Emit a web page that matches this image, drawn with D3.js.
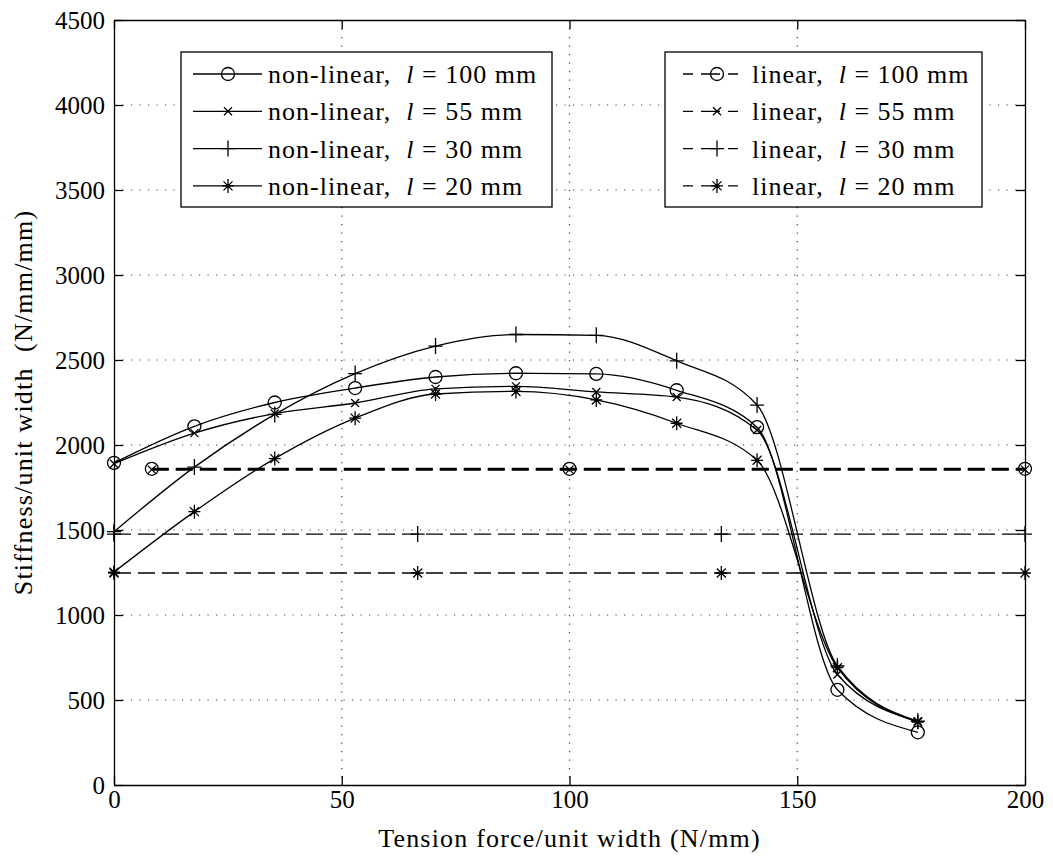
<!DOCTYPE html>
<html>
<head>
<meta charset="utf-8">
<script src="https://cdn.jsdelivr.net/npm/d3@7"></script>
<style>
  body { margin: 0; background: #fff; }
  svg text { font-family: "Liberation Serif", "Times New Roman", serif; fill: #000; }
</style>
</head>
<body>
<div id="chart"></div>
<script>
// tension force per unit width where the non-linear model was evaluated (N/mm)
let tension = [0, 17.65, 35.29, 52.94, 70.59, 88.24, 105.88, 123.53, 141.18, 158.82, 176.47];

// non-linear stiffness (N/mm/mm)
let nonlin100 = [1895, 2110, 2250, 2335, 2400, 2422, 2418, 2322, 2105, 560, 310];
let nonlin55 = [1890, 2070, 2185, 2247, 2330, 2345, 2312, 2282, 2088, 650, 375];
let nonlin30 = [1490, 1870, 2180, 2420, 2582, 2650, 2645, 2495, 2235, 700, 375];
let nonlin20 = [1252, 1608, 1920, 2158, 2300, 2315, 2265, 2128, 1910, 690, 370];

// linear stiffness, constant over tension
let linTension100 = [8.3, 100, 200];
let linear100 = [1860, 1860, 1860];
let linTension55 = [8.3, 100, 200];
let linear55 = [1855, 1855, 1855];
let linTension30 = [0, 66.67, 133.33, 200];
let linear30 = [1476, 1476, 1476, 1476];
let linTension20 = [0, 66.67, 133.33, 200];
let linear20 = [1247, 1247, 1247, 1247];

let xTicks = [0, 50, 100, 150, 200];
let yTicks = [0, 500, 1000, 1500, 2000, 2500, 3000, 3500, 4000, 4500];

let lengths = ["100", "55", "30", "20"];
let markerTypes = ["circle", "x", "plus", "star"];

const width = 1053;
const height = 861;
const plotLeft = 114, plotRight = 1025, plotTop = 20, plotBottom = 785;
const serif = '"Liberation Serif", "Times New Roman", serif';

var svg = d3.select("#chart")
    .append("svg")
    .attr("width", width)
    .attr("height", height);

var x = d3.scaleLinear().domain([0, 200]).range([plotLeft, plotRight]);
var y = d3.scaleLinear().domain([0, 4500]).range([plotBottom, plotTop]);

// dotted grid
svg.append("g").selectAll("line")
    .data(xTicks.slice(1, -1))
    .enter().append("line")
    .attr("x1", d => x(d)).attr("x2", d => x(d))
    .attr("y1", plotTop).attr("y2", plotBottom)
    .attr("stroke", "#444").attr("stroke-width", 1.2)
    .attr("stroke-dasharray", "1.2,7.3");
svg.append("g").selectAll("line")
    .data(yTicks.slice(1, -1))
    .enter().append("line")
    .attr("x1", plotLeft).attr("x2", plotRight)
    .attr("y1", d => y(d)).attr("y2", d => y(d))
    .attr("stroke", "#444").attr("stroke-width", 1.2)
    .attr("stroke-dasharray", "1.2,7.3");

// axes, ticks pointing inward
var xAxis = d3.axisBottom(x).tickValues(xTicks).tickFormat(d3.format("d"))
    .tickSizeInner(-9).tickSizeOuter(0).tickPadding(5);
var yAxis = d3.axisLeft(y).tickValues(yTicks).tickFormat(d3.format("d"))
    .tickSizeInner(-9).tickSizeOuter(0).tickPadding(9);

var gx = svg.append("g").attr("transform", "translate(0," + plotBottom + ")").call(xAxis);
var gy = svg.append("g").attr("transform", "translate(" + plotLeft + ",0)").call(yAxis);
svg.append("g").attr("transform", "translate(0," + plotTop + ")")
    .call(d3.axisTop(x).tickValues(xTicks).tickSizeInner(-9).tickSizeOuter(0).tickFormat(""));
svg.append("g").attr("transform", "translate(" + plotRight + ",0)")
    .call(d3.axisRight(y).tickValues(yTicks).tickSizeInner(-9).tickSizeOuter(0).tickFormat(""));

svg.selectAll(".domain, .tick line").attr("stroke", "#000").attr("stroke-width", 1.3);
gx.selectAll("text").style("font-family", serif).style("font-size", "25px");
gy.selectAll("text").style("font-family", serif).style("font-size", "25px");

svg.append("text")
    .attr("x", (plotLeft + plotRight) / 2).attr("y", 847)
    .attr("text-anchor", "middle")
    .style("font-family", serif)
    .style("font-size", "26px")
    .style("letter-spacing", "1.2px")
    .text("Tension force/unit width (N/mm)");

svg.append("text")
    .attr("transform", "translate(32," + ((plotTop + plotBottom) / 2 + 0) + ") rotate(-90)")
    .attr("text-anchor", "middle")
    .style("font-family", serif)
    .style("font-size", "26px")
    .style("letter-spacing", "1.2px")
    .text("Stiffness/unit width\u00a0\u00a0(N/mm/mm)");

function drawMarker(g, type, cx, cy) {
    let m = g.append("g").attr("transform", "translate(" + cx + "," + cy + ")")
        .attr("stroke", "#000").attr("fill", "none").attr("stroke-width", 1.3);
    if (type === "circle") {
        m.append("circle").attr("r", 6.5);
    } else if (type === "x") {
        m.append("path").attr("d", "M-4,-4L4,4M-4,4L4,-4");
    } else if (type === "plus") {
        m.append("path").attr("d", "M-7,0L7,0M0,-8L0,8");
    } else if (type === "star") {
        m.append("path").attr("d", "M-6,0L6,0M0,-7L0,7M-4.5,-4.5L4.5,4.5M-4.5,4.5L4.5,-4.5");
        m.append("circle").attr("r", 2).attr("fill", "#000").attr("stroke", "none");
    }
}

var line = d3.line()
    .x(d => x(d[0]))
    .y(d => y(d[1]));
var smooth = d3.line()
    .x(d => x(d[0]))
    .y(d => y(d[1]))
    .curve(d3.curveMonotoneX);

let linearSeries = [
    [linTension100, linear100], [linTension55, linear55],
    [linTension30, linear30], [linTension20, linear20]
];
let nonlinSeries = [nonlin100, nonlin55, nonlin30, nonlin20];

var plot = svg.append("g");

linearSeries.forEach(function(s, i) {
    let pts = s[0].map((t, k) => [t, s[1][k]]);
    plot.append("path")
        .attr("d", line(pts))
        .attr("fill", "none")
        .attr("stroke", "#000")
        .attr("stroke-width", i < 2 ? 2 : 1.4)
        .attr("stroke-dasharray", "17,7");
    pts.forEach(p => drawMarker(plot, markerTypes[i], x(p[0]), y(p[1])));
});

nonlinSeries.forEach(function(vals, i) {
    let pts = tension.map((t, k) => [t, vals[k]]);
    plot.append("path")
        .attr("d", smooth(pts))
        .attr("fill", "none")
        .attr("stroke", "#000")
        .attr("stroke-width", 1.3);
    pts.forEach(p => drawMarker(plot, markerTypes[i], x(p[0]), y(p[1])));
});

// legends
function legendBox(bx, by, bw, bh) {
    svg.append("rect")
        .attr("x", bx).attr("y", by).attr("width", bw).attr("height", bh)
        .attr("fill", "#fff").attr("stroke", "#000").attr("stroke-width", 1.3);
}

legendBox(181, 52, 371, 155);
legendBox(665, 52, 317, 155);

lengths.forEach(function(l, i) {
    let ry = 74 + i * 37.3;

    svg.append("line")
        .attr("x1", 193).attr("x2", 262).attr("y1", ry).attr("y2", ry)
        .attr("stroke", "#000").attr("stroke-width", 1.3);
    drawMarker(svg, markerTypes[i], 228, ry);
    let t1 = svg.append("text").attr("x", 268).attr("y", ry + 9)
        .style("font-family", serif).style("font-size", "26px").style("letter-spacing", "1px");
    t1.append("tspan").text("non-linear,\u00a0\u00a0");
    t1.append("tspan").style("font-style", "italic").text("l");
    t1.append("tspan").text(" = " + l + " mm");

    svg.append("line")
        .attr("x1", 683).attr("x2", 738).attr("y1", ry).attr("y2", ry)
        .attr("stroke", "#000").attr("stroke-width", 1.3)
        .attr("stroke-dasharray", "10,8,19,8,10");
    drawMarker(svg, markerTypes[i], 717, ry);
    let t2 = svg.append("text").attr("x", 752).attr("y", ry + 9)
        .style("font-family", serif).style("font-size", "26px").style("letter-spacing", "1px");
    t2.append("tspan").text("linear,\u00a0\u00a0");
    t2.append("tspan").style("font-style", "italic").text("l");
    t2.append("tspan").text(" = " + l + " mm");
});
</script>
</body>
</html>
